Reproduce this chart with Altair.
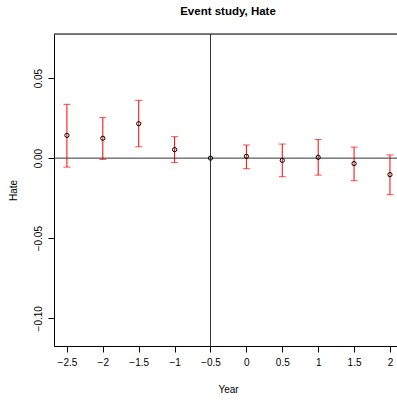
import altair as alt
import pandas as pd

# Event-study coefficients for "Hate" with confidence bounds
years = [-2.5, -2, -1.5, -1, -0.5, 0, 0.5, 1, 1.5, 2]
estimate = [0.0142, 0.0124, 0.0215, 0.0053, 0.0, 0.0011, -0.0014, 0.0005, -0.0034, -0.0103]
upper = [0.0336, 0.0253, 0.0361, 0.0134, 0.0, 0.0082, 0.0088, 0.0116, 0.0069, 0.0020]
lower = [-0.0056, -0.0008, 0.0071, -0.0028, 0.0, -0.0066, -0.0116, -0.0106, -0.0141, -0.0228]

x_ticks = [-2.5, -2, -1.5, -1, -0.5, 0, 0.5, 1, 1.5, 2]
y_ticks = [-0.10, -0.05, 0.0, 0.05]
event_year = -0.5

df = pd.DataFrame({"Year": years, "Hate": estimate, "hi": upper, "lo": lower})

FONT = "Liberation Sans"
W, H = 343, 312

x_scale = alt.Scale(domain=[-2.68, 2.098], nice=False, zero=False)
y_scale = alt.Scale(domain=[-0.1173, 0.0775], nice=False, zero=False)

x_axis = alt.Axis(
    values=x_ticks,
    format="~g",
    title="Year",
    grid=False,
    domainColor="black",
    tickColor="black",
    tickSize=6,
    labelPadding=5,
    labelFontSize=10,
    labelColor="black",
    labelFont=FONT,
    labelOverlap=False,
    labelFlush=False,
    titleFont=FONT,
    titleFontSize=10,
    titleFontWeight="normal",
    titleColor="black",
    titleX=174,
    titleY=43.5,
    titleBaseline="middle",
)
y_axis = alt.Axis(
    values=y_ticks,
    format=".2f",
    title="Hate",
    grid=False,
    domainColor="black",
    tickColor="black",
    tickSize=6,
    labelAngle=-90,
    labelPadding=5,
    labelFontSize=10,
    labelColor="black",
    labelFont=FONT,
    labelOverlap=False,
    labelFlush=False,
    titleFont=FONT,
    titleFontSize=10,
    titleFontWeight="normal",
    titleColor="black",
    titleX=-40.5,
    titleY=156,
    titleBaseline="middle",
)


def xq(field):
    return alt.X(field, scale=x_scale, axis=x_axis)


def yq(field):
    return alt.Y(field, scale=y_scale, axis=y_axis)


base = alt.Chart(df)
ranged = base.transform_filter("datum.hi > datum.lo")

# Confidence intervals: vertical segments with flat caps
bars = ranged.mark_rule(color="#ff0000", strokeWidth=1).encode(
    x=xq("Year:Q"), y=yq("lo:Q"), y2="hi:Q"
)

caps_hi = ranged.mark_tick(
    color="#ff0000", orient="horizontal", size=7, thickness=1
).encode(x=xq("Year:Q"), y=yq("hi:Q"))

caps_lo = ranged.mark_tick(
    color="#ff0000", orient="horizontal", size=7, thickness=1
).encode(x=xq("Year:Q"), y=yq("lo:Q"))

zero_line = alt.Chart(pd.DataFrame({"y": [0.0]})).mark_rule(
    color="#333333", strokeWidth=1
).encode(y=yq("y:Q"))

event_line = alt.Chart(pd.DataFrame({"x": [event_year]})).mark_rule(
    color="#333333", strokeWidth=1
).encode(x=xq("x:Q"))

top_border = alt.Chart(pd.DataFrame({"k": [0]})).mark_rule(
    color="black", strokeWidth=1
).encode(x=alt.value(0), x2=alt.value(W), y=alt.value(0))

points = base.mark_point(
    shape="circle", filled=False, color="black", size=18, strokeWidth=1, opacity=1
).encode(x=xq("Year:Q"), y=yq("Hate:Q"))

chart = (
    alt.layer(bars, caps_hi, caps_lo, zero_line, event_line, top_border, points)
    .properties(
        width=W,
        height=H,
        autosize=alt.AutoSizeParams(type="none"),
        padding={"left": 54, "top": 34, "right": 0, "bottom": 54},
        title=alt.TitleParams(
            "Event study, Hate",
            font=FONT,
            fontSize=11.5,
            fontWeight="bold",
            color="black",
            anchor="middle",
            frame="group",
            dx=2.5,
            offset=16,
        ),
    )
    .configure_view(stroke=None)
    .configure(background="white")
)

chart.save("out.html", embed_options={"renderer": "svg", "actions": False})
